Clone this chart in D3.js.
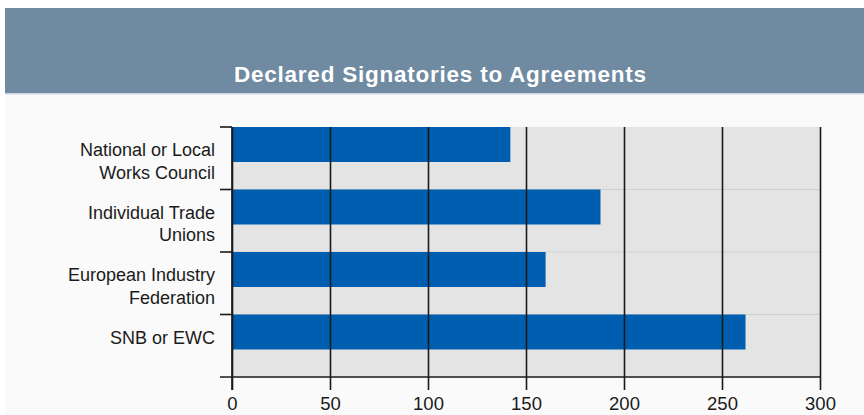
<!DOCTYPE html>
<html>
<head>
<meta charset="utf-8">
<script src="https://cdn.jsdelivr.net/npm/d3@7"></script>
<style>
  html, body { margin: 0; padding: 0; background: #ffffff; }
  svg { display: block; }
</style>
</head>
<body>
<script>
const title = "Declared Signatories to Agreements";
const categories = [
  ["National or Local", "Works Council"],
  ["Individual Trade", "Unions"],
  ["European Industry", "Federation"],
  ["SNB or EWC"]
];
const values = [142, 188, 160, 262];
const xTicks = [0, 50, 100, 150, 200, 250, 300];

const W = 864, H = 415;
const svg = d3.select("body").append("svg").attr("width", W).attr("height", H);

// page background
svg.append("rect").attr("x", 5).attr("y", 8).attr("width", W - 5).attr("height", H - 8).attr("fill", "#fafafa");
// header
svg.append("rect").attr("x", 5).attr("y", 8).attr("width", W - 5).attr("height", 85).attr("fill", "#6f8aa1");
svg.append("rect").attr("x", 5).attr("y", 93).attr("width", W - 5).attr("height", 1.5).attr("fill", "#c9d6e2");
svg.append("text").attr("x", 440).attr("y", 81.5).attr("text-anchor", "middle")
  .attr("font-family", "'Liberation Sans', Arial, sans-serif").attr("font-weight", "bold")
  .attr("font-size", 22.5).attr("fill", "#ffffff")
  .attr("textLength", 412).attr("lengthAdjust", "spacing").text(title);

const pLeft = 232, pRight = 820, pTop = 127, pBottom = 377;
const x = d3.scaleLinear().domain([0, 300]).range([pLeft, pRight]);
const y = d3.scaleBand().domain(d3.range(categories.length)).range([pTop, pBottom]).padding(0);

// plot background
svg.append("rect").attr("x", pLeft).attr("y", pTop).attr("width", pRight - pLeft).attr("height", pBottom - pTop).attr("fill", "#e4e4e4");

// horizontal light grid at band boundaries
svg.append("g").selectAll("line").data(d3.range(1, categories.length)).join("line")
  .attr("x1", pLeft).attr("x2", pRight)
  .attr("y1", d => y(d)).attr("y2", d => y(d))
  .attr("stroke", "#cfcfcf").attr("stroke-width", 1.2);

// bars
const barH = y.bandwidth() * 0.56;
svg.append("g").selectAll("rect").data(values).join("rect")
  .attr("x", x(0)).attr("y", (d, i) => y(i))
  .attr("width", d => x(d) - x(0)).attr("height", barH)
  .attr("fill", "#005eb1");

// vertical grid lines + x ticks
const xAxis = d3.axisBottom(x).tickValues(xTicks).tickSize(13).tickPadding(7);
const gx = svg.append("g").attr("transform", `translate(0,${pBottom})`).call(xAxis);
gx.select(".domain").remove();
gx.selectAll(".tick line").attr("y1", -(pBottom - pTop)).attr("stroke", "#1a1a1a").attr("stroke-width", 1.6);
gx.selectAll(".tick text").attr("font-family", "'Liberation Sans Narrow', 'Arial Narrow', sans-serif")
  .attr("font-size", 18.5).attr("fill", "#1a1a1a");

// bottom axis line
svg.append("line").attr("x1", 220).attr("x2", pRight).attr("y1", pBottom).attr("y2", pBottom)
  .attr("stroke", "#1a1a1a").attr("stroke-width", 1.6);

// y axis with ticks at band boundaries
svg.append("line").attr("x1", pLeft).attr("x2", pLeft).attr("y1", pTop).attr("y2", pBottom + 13)
  .attr("stroke", "#1a1a1a").attr("stroke-width", 1.6);
svg.append("g").selectAll("line").data(d3.range(0, categories.length)).join("line")
  .attr("x1", 220).attr("x2", pLeft).attr("y1", d => y(d)).attr("y2", d => y(d))
  .attr("stroke", "#1a1a1a").attr("stroke-width", 1.6);

// category labels
const lab = svg.append("g").selectAll("text").data(categories).join("text")
  .attr("text-anchor", "end")
  .attr("font-family", "'Liberation Sans Narrow', 'Arial Narrow', sans-serif")
  .attr("font-size", 18).attr("fill", "#1a1a1a");
lab.each(function(lines, i) {
  const t = d3.select(this);
  lines.forEach((ln, k) => {
    t.append("tspan").attr("x", 215).attr("y", y(i) + 29 + k * 22.5).text(ln);
  });
});
</script>
</body>
</html>
